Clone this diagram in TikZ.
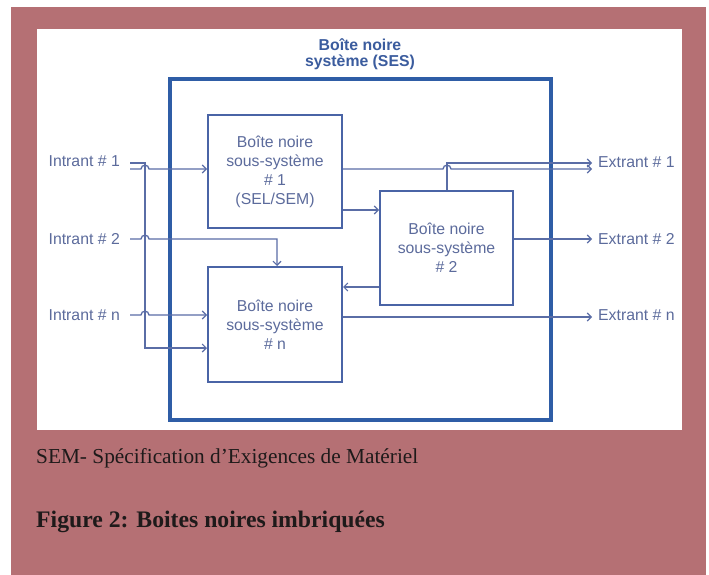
\documentclass[tikz,border=0pt]{standalone}
\usepackage{fontspec}
\setmainfont{Liberation Serif}
\newfontfamily\arialf{Liberation Sans}
\usetikzlibrary{arrows.meta}
\definecolor{pinkbg}{HTML}{B57074}
\definecolor{sesblue}{HTML}{2F5DA6}
\definecolor{boxblue}{HTML}{4A64A6}
\definecolor{linecol}{HTML}{5A6DA6}
\definecolor{txtcol}{HTML}{5C6B9C}
\definecolor{titcol}{HTML}{3B5C9E}
\definecolor{capcol}{HTML}{1E1A1A}
\tikzset{
  sesbox/.style={draw=sesblue, line width=3.2pt, minimum width=381pt, minimum height=341pt, inner sep=0pt},
  subbox/.style={draw=boxblue, line width=2pt, align=center, text=txtcol, inner sep=0pt,
    font=\arialf\fontsize{15.8}{19}\selectfont},
  sestitle/.style={align=center, text=titcol, inner sep=0pt, font=\arialf\bfseries\fontsize{15.8}{16.5}\selectfont},
  lab/.style={text=txtcol, inner sep=0pt, font=\arialf\fontsize{15.8}{19}\selectfont},
  conn/.style={draw=linecol, line width=1.3pt},
  arr/.style={conn, -{Straight Barb[length=4pt,width=8pt,line width=1.1pt]}},
  captxt/.style={text=capcol, inner sep=0pt, anchor=west}
}
\begin{document}
\begin{tikzpicture}[x=1pt,y=-1pt]
\fill[pinkbg] (11,7) rectangle (706,575);
\useasboundingbox (0,0) rectangle (709,575);
\fill[white] (37,29) rectangle (682,430);

\node[sesbox] (ses) at (360.5,249.5) {};
\node[sestitle] (sest) at (360,54) {Boîte noire\\système (SES)};

\node[subbox, minimum width=134pt, minimum height=113pt] (b1) at (275,171.5)
  {Boîte noire\\sous-système\\\# 1\\(SEL/SEM)};
\node[subbox, minimum width=133pt, minimum height=114pt] (b2) at (446.5,248)
  {Boîte noire\\sous-système\\\# 2};
\node[subbox, minimum width=134pt, minimum height=115pt] (bn) at (275,324.5)
  {Boîte noire\\sous-système\\\# n};

\node[lab, anchor=east] (in1) at (120,161) {Intrant \# 1};
\node[lab, anchor=east] (in2) at (120,239) {Intrant \# 2};
\node[lab, anchor=east] (inn) at (120,315) {Intrant \# n};
\node[lab, anchor=west] (out1) at (598,162) {Extrant \# 1};
\node[lab, anchor=west] (out2) at (598,239) {Extrant \# 2};
\node[lab, anchor=west] (outn) at (598,315) {Extrant \# n};

% free ends of the input and output lines
\coordinate (i1a) at (130,163);
\coordinate (i1b) at (130,169);
\coordinate (i2) at (130,239);
\coordinate (in) at (130,315);
\coordinate (o1a) at (592,163);
\coordinate (o1b) at (592,169);
\coordinate (o2) at (592,239);
\coordinate (on) at (592,317);

% Intrant 1 -> box n (via vertical bus)
\draw[arr] (i1a) -- (145,163) -- (145,348) -- (bn.west |- 0,348);
% Intrant 1 -> box 1 (hops over bus)
\draw[arr] (i1b) -- (141,169) .. controls (141,164) and (149,164) .. (149,169) -- (b1.west |- i1b);
% Intrant 2 -> box n top
\draw[arr] (i2) -- (141,239) .. controls (141,234) and (149,234) .. (149,239) -- (277,239) -- (bn.north -| 277,0);
% Intrant n -> box n
\draw[arr] (in) -- (141,315) .. controls (141,310) and (149,310) .. (149,315) -- (bn.west |- in);

% box 1 -> Extrant 1 (hops over vertical from box 2)
\draw[arr] (b1.east |- o1b) -- (443,169) .. controls (443,164) and (451,164) .. (451,169) -- (o1b);
% box 2 -> Extrant 1
\draw[arr] (b2.north -| 447,0) -- (447,163) -- (o1a);
% box 1 -> box 2
\draw[arr] (b1.east |- 0,210) -- (b2.west |- 0,210);
% box 2 -> Extrant 2
\draw[arr] (b2.east |- o2) -- (o2);
% box 2 -> box n
\draw[arr] (b2.west |- 0,287) -- (bn.east |- 0,287);
% box n -> Extrant n
\draw[arr] (bn.east |- on) -- (on);

\node[captxt, font=\fontsize{21.3}{23}\selectfont] (cap1) at (36,458) {SEM- Spécification d’Exigences de Matériel};
\node[captxt, font=\bfseries\fontsize{23.7}{25}\selectfont] (cap2) at (36,522) {Figure 2: Boites noires imbriquées};
\end{tikzpicture}
\end{document}
